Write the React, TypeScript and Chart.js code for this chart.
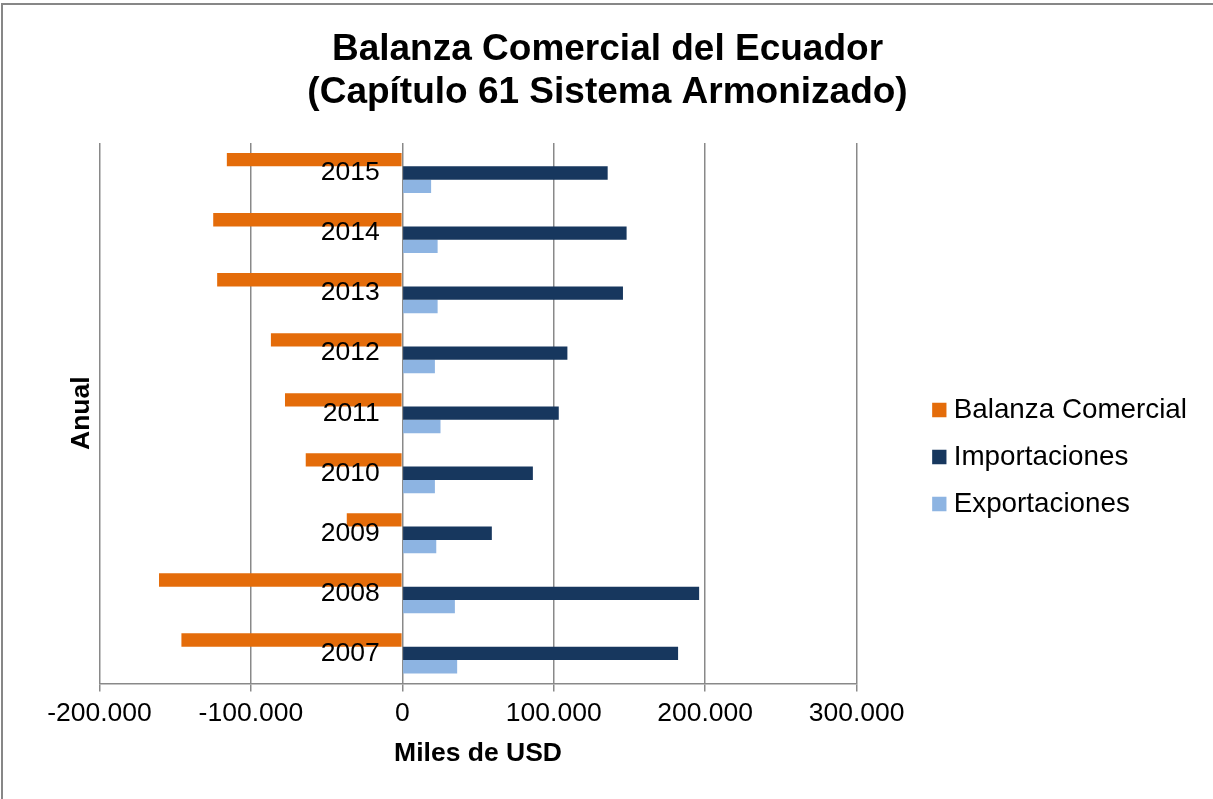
import React, { useEffect, useRef } from "react";
import { Chart, registerables } from "chart.js";

Chart.register(...registerables);

const years = ["2015", "2014", "2013", "2012", "2011", "2010", "2009", "2008", "2007"];
const balanza = [-115900, -124900, -122300, -86800, -77500, -63800, -36700, -160700, -145900];
const importaciones = [135600, 148100, 145700, 109000, 103300, 86200, 59100, 196000, 182100];
const exportaciones = [19000, 23300, 23300, 21500, 25200, 21500, 22400, 34700, 36200];

const seriesNames = ["Balanza Comercial", "Importaciones", "Exportaciones"];
const seriesColors = ["#E46C0A", "#17375E", "#8DB4E2"];
const titleLines = ["Balanza Comercial del Ecuador", "(Capítulo 61 Sistema Armonizado)"];
const xTitle = "Miles de USD";
const yTitle = "Anual";

const FONT = "'Liberation Sans', Arial, Helvetica, sans-serif";
const GRID = "#898989";

function fmt(v: number): string {
  const s = String(Math.abs(Math.round(v))).replace(/\B(?=(\d{3})+(?!\d))/g, ".");
  return (v < 0 ? "-" : "") + s;
}

const borderPlugin = {
  id: "outerBorder",
  afterDraw(chart: any) {
    const ctx = chart.ctx;
    ctx.save();
    ctx.strokeStyle = "#878787";
    ctx.lineWidth = 2;
    ctx.beginPath();
    ctx.moveTo(2, chart.height + 5);
    ctx.lineTo(2, 4);
    ctx.lineTo(chart.width + 5, 4);
    ctx.stroke();
    ctx.restore();
  },
};

export default function App() {
  const ref = useRef<HTMLCanvasElement | null>(null);
  useEffect(() => {
    document.body.style.margin = "0";
    const canvas = ref.current;
    if (!canvas) return;
    const data = [balanza, importaciones, exportaciones];
    const chart = new Chart(canvas, {
      type: "bar",
      data: {
        labels: years,
        datasets: seriesNames.map((name, i) => ({
          label: name,
          data: data[i],
          backgroundColor: seriesColors[i],
          borderWidth: 0,
          barPercentage: 1,
          categoryPercentage: 0.667,
          xAxisID: "x",
          yAxisID: "y",
        })),
      },
      options: {
        indexAxis: "y",
        animation: false,
        responsive: true,
        maintainAspectRatio: false,
        layout: { padding: { left: 18, right: 16, top: 0, bottom: 0 } },
        scales: {
          y: {
            type: "category",
            position: { x: -15000 },
            grid: { display: false },
            border: { display: false },
            ticks: {
              z: 1,
              color: "#000",
              font: { family: FONT, size: 26.5 },
              autoSkip: false,
            },
          },
          x: {
            type: "linear",
            position: "bottom",
            min: -200000,
            max: 300000,
            grid: { color: GRID, lineWidth: 1.5, tickLength: 8, tickColor: GRID, drawTicks: true },
            border: { display: true, color: GRID, width: 1.5 },
            ticks: {
              stepSize: 100000,
              color: "#000",
              padding: 6,
              font: { family: FONT, size: 26.5 },
              callback: (v: any) => fmt(Number(v)),
            },
            title: {
              display: true,
              text: xTitle,
              color: "#000",
              font: { family: FONT, size: 26.5, weight: "bold" },
              padding: { top: 3, bottom: 29 },
            },
          },
          yl: {
            type: "linear",
            axis: "y",
            position: "left",
            grid: { display: false },
            border: { display: false },
            ticks: { display: false },
            title: {
              display: true,
              text: yTitle,
              color: "#000",
              font: { family: FONT, size: 26.5, weight: "bold" },
              padding: { top: 48, bottom: 0 },
            },
            afterFit: (s: any) => {
              s.width = 81.5;
            },
          },
          yr: {
            type: "linear",
            axis: "y",
            position: "right",
            grid: { display: false },
            border: { display: false },
            ticks: { display: false },
            afterFit: (s: any) => {
              s.width = 63;
            },
          },
        } as any,
        plugins: {
          title: {
            display: true,
            text: titleLines,
            color: "#000",
            font: { family: FONT, size: 37, weight: "bold", lineHeight: 43 / 37 },
            padding: { top: 28.5, bottom: 28.5 },
          },
          legend: {
            display: true,
            position: "right",
            align: "center",
            maxWidth: 500,
            title: {
              display: true,
              text: "",
              font: { size: 10, lineHeight: 1 },
              padding: { top: 105, bottom: 0 },
            },
            labels: {
              color: "#000",
              font: { family: FONT, size: 27.8 },
              usePointStyle: true,
              pointStyle: "rect",
              boxWidth: 1,
              boxHeight: 14.3,
              padding: 19.2,
            },
          },
          tooltip: { enabled: false },
        },
      } as any,
      plugins: [borderPlugin],
    });
    return () => chart.destroy();
  }, []);
  return (
    <div style={{ width: 1213, height: 799, position: "relative", overflow: "hidden" }}>
      <canvas ref={ref} style={{ display: "block" }} />
    </div>
  );
}
